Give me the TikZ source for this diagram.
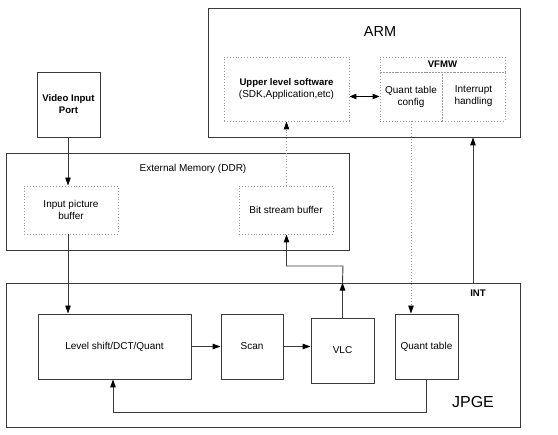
\documentclass[tikz,border=0pt]{standalone}
\usepackage{fontspec}
\setmainfont{Liberation Sans}
\usetikzlibrary{arrows.meta,calc,positioning}
\definecolor{LineGray}{HTML}{3A3A3A}
\definecolor{DotGray}{HTML}{9A9A9A}

\begin{document}
\begin{tikzpicture}[x=1pt,y=-1pt,
    blk/.style={draw=LineGray,line width=.9pt,inner sep=0pt,align=center,
                font=\fontsize{10}{12}\selectfont},
    dbox/.style={draw=DotGray,dotted,line width=.9pt,inner sep=0pt,align=center,
                font=\fontsize{10}{12}\selectfont},
    lbl/.style={inner sep=0pt,font=\fontsize{10}{12}\selectfont},
    arr/.style={-{Triangle[length=8pt,width=5.5pt,color=black]},line width=.9pt,LineGray},
    darr/.style={-{Triangle[length=8pt,width=5.5pt,color=black]},line width=.9pt,DotGray,dotted},
    dbl/.style={{Triangle[length=7pt,width=5.5pt]}-{Triangle[length=7pt,width=5.5pt]},line width=.9pt,black}]
    \useasboundingbox (0,0) rectangle (558,435);
    % host side
    \node[blk,minimum width=312,minimum height=129] (arm) at (364,72.5) {};
    \node[lbl,font=\fontsize{14.5}{16}\selectfont] (armlbl) at (380,32) {ARM};
    \node[dbox,minimum width=125,minimum height=64] (upper) at (286.5,89)
        {{\fontsize{9.6}{12}\selectfont\bfseries Upper level software}\\(SDK,Application,etc)};
    \node[dbox,minimum width=125,minimum height=15,font=\fontsize{9.6}{12}\selectfont\bfseries]
        (vfmw) at (442.5,64.5) {VFMW};
    \node[dbox,minimum width=62,minimum height=49] (qcfg) at (411,96.5) {Quant table\\config};
    \node[dbox,minimum width=63,minimum height=49] (intr) at (473.5,96.5) {Interrupt\\handling};
    \node[blk,minimum width=63,minimum height=65,font=\fontsize{9.6}{12}\selectfont\bfseries]
        (vip) at (68.5,104.5) {Video Input\\Port};
    % memory
    \node[blk,minimum width=343,minimum height=97] (ddr) at (177.5,201.5) {};
    \node[lbl] (ddrlbl) at (193,169) {External Memory (DDR)};
    \node[dbox,minimum width=94,minimum height=48] (ipb) at (71,210) {Input picture\\buffer};
    \node[dbox,minimum width=94,minimum height=48] (bsb) at (286,210) {Bit stream buffer};
    % encoder
    \node[blk,minimum width=514,minimum height=144] (jpge) at (263,355) {};
    \node[lbl,font=\fontsize{16}{18}\selectfont] (jpgelbl) at (473,402) {JPGE};
    \node[lbl,font=\fontsize{9.6}{12}\selectfont\bfseries] (intlbl) at (478,293) {INT};
    \node[blk,minimum width=153,minimum height=65] (level) at (114.5,346.5) {Level shift/DCT/Quant};
    \node[blk,minimum width=62,minimum height=65] (scan) at (252,346.5) {Scan};
    \node[blk,minimum width=63,minimum height=65] (vlc) at (342.5,350.5) {VLC};
    \node[blk,minimum width=63,minimum height=65] (quant) at (426.5,346.5) {Quant table};
    \coordinate (bend) at (343,266);
    % connectors
    \draw[arr] ([xshift=-.5pt]vip.south) -- ([xshift=-.5pt]vip.south |- ipb.north);
    \draw[arr] ([xshift=-.5pt]vip.south |- ipb.south) -- ([xshift=-.5pt]vip.south |- level.north);
    \draw[arr] (level.east) -- (scan.west);
    \draw[arr] (scan.east) -- (scan.east -| vlc.west);
    \draw[arr] (vlc.north) -- (vlc.north |- jpge.north);
    \draw[arr] (vlc.north |- jpge.north) -- (bend) -| ([xshift=.5pt]bsb.south);
    \draw[darr] ([xshift=.5pt]bsb.north) -- ([xshift=.5pt]bsb.north |- upper.south);
    \draw[dbl] (upper.east |- qcfg) -- (qcfg.west);
    \draw[darr] (qcfg.south) -- (qcfg.south |- quant.north);
    \draw[arr] ([xshift=-.5pt]intr.south |- jpge.north) -- ([xshift=-.5pt]intr.south |- arm.south);
    \draw[arr] (quant.south) -- ++(0,33) -| ([xshift=-1.5pt]level.south);
\end{tikzpicture}
\end{document}
